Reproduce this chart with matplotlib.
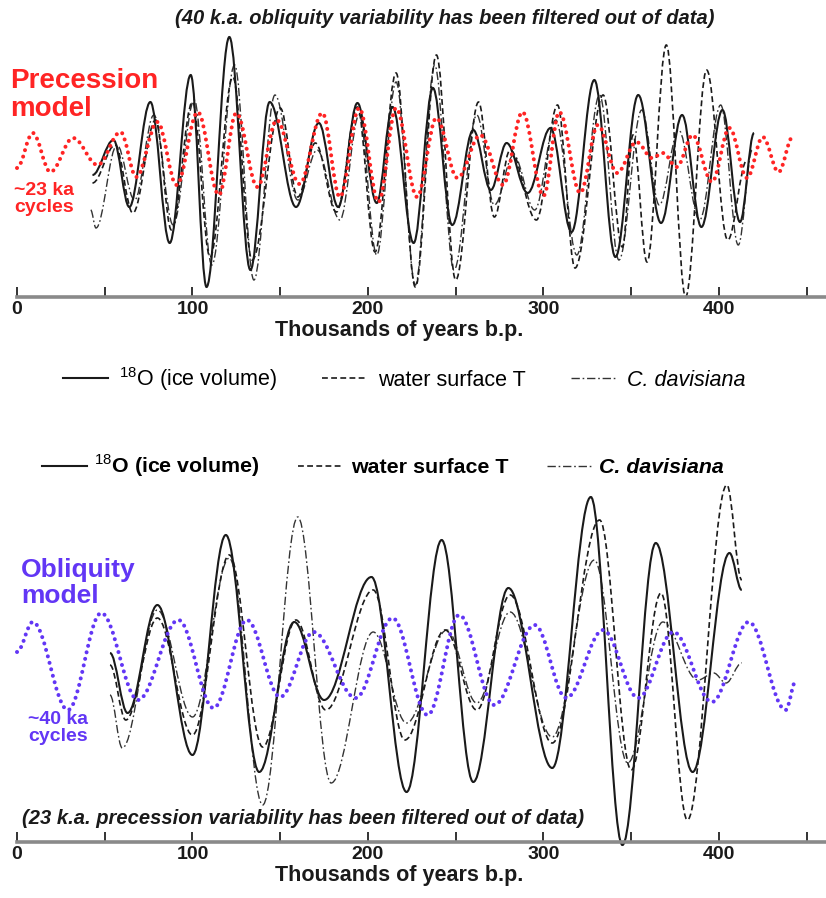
import matplotlib
matplotlib.use('Agg')
import matplotlib.pyplot as plt
from matplotlib.path import Path
from matplotlib.patches import PathPatch
from matplotlib.lines import Line2D

plt.rcParams['font.family'] = ['Liberation Sans', 'DejaVu Sans']
plt.rcParams['mathtext.fontset'] = 'custom'
plt.rcParams['mathtext.rm'] = 'Liberation Sans'
plt.rcParams['mathtext.bf'] = 'Liberation Sans:bold'

# ---- data: (ka b.p., relative amplitude) at turning points ----
# top panel: 40 ka filtered out, precession band
prec_t = [0, 9, 19, 32, 46, 59, 68, 80, 91, 103, 115, 125, 137, 148, 161, 174, 184, 195, 206, 216,
          228, 239, 251, 264, 277, 288, 300, 309, 321, 331, 342, 353, 362, 368, 376, 385, 396, 406,
          416, 425, 434, 442]
prec_v = [0.2, 3.7, -0.2, 3.2, 0.5, 3.8, -0.7, 4.8, -1.5, 5.8, -2.5, 5.7, -1.7, 5.0, -1.4, 5.7, -2.7,
          6.2, -3.2, 6.2, -2.7, 5.2, -0.8, 3.5, -1.5, 5.8, -2.6, 5.8, -2.3, 4.5, -0.3, 2.8, 1.2, 1.7,
          0.3, 3.5, -1.2, 4.2, -0.8, 3.3, -0.2, 3.3]

top_d18o_t = [43, 55, 64, 76, 87, 99, 108, 121, 133, 144, 159, 172, 183, 194, 205, 214, 226, 237,
              248, 260, 270, 279, 291, 304, 316, 329, 341, 354, 367, 379, 390, 402, 412, 420]
top_d18o_v = [-0.5, 3.0, -3.7, 6.8, -7.3, 9.5, -11.7, 13.3, -10.0, 6.8, -3.7, 4.7, -3.7, 6.7, -3.3,
              6.3, -7.3, 8.2, -5.5, 4.0, -2.0, 2.7, -2.3, 4.2, -6.2, 9.0, -8.7, 7.5, -5.3, 5.5, -5.7,
              6.0, -5.2, 3.7]

top_sst_t = [43, 56, 66, 79, 88, 100, 110, 123, 134, 150, 160, 170, 182, 194, 204, 216, 227, 239,
             250, 263, 272, 281, 296, 308, 318, 334, 345, 351, 359, 370, 381, 393, 405, 416]
top_sst_v = [-1.3, 2.5, -4.3, 5.0, -6.0, 6.8, -8.7, 9.3, -9.0, 6.2, -2.7, 2.7, -4.2, 6.3, -8.2, 9.7,
             -11.7, 11.5, -11.0, 6.8, -4.7, 2.0, -5.0, 6.5, -9.8, 7.5, -7.7, 3.5, -9.2, 12.5, -12.7,
             10.0, -7.0, 1.0]

top_cd_t = [42, 45, 57, 67, 78, 89, 101, 111, 124, 135, 147, 160, 171, 184, 195, 205, 216, 227, 238,
            249, 262, 272, 283, 295, 307, 319, 332, 343, 356, 366, 377, 389, 401, 411, 419]
top_cd_v = [-4.0, -5.8, 2.5, -3.0, 5.5, -5.5, 7.0, -9.5, 10.5, -11.0, 7.5, -3.0, 2.0, -5.0, 5.5, -8.5,
            8.8, -11.5, 10.5, -10.0, 5.5, -3.5, 1.5, -4.0, 5.0, -8.5, 7.5, -9.0, 6.0, -3.5, 4.0, -5.0,
            6.5, -7.5, 2.0]

# bottom panel: 23 ka filtered out, obliquity band
obl_t = [0, 9, 29, 48, 69, 92, 112, 131, 150, 169, 193, 214, 234, 252, 272, 295, 313, 334, 354, 374,
         396, 417, 438, 444]
obl_v = [2.8, 5.8, -3.0, 6.7, -2.0, 6.0, -2.8, 6.0, -1.7, 4.8, -1.8, 6.2, -3.5, 6.5, -2.5, 5.5, -1.8,
         5.0, -1.8, 4.8, -2.2, 5.8, -3.0, 0.0]

bot_d18o_t = [53, 63, 80, 100, 119, 138, 158, 175, 202, 222, 242, 260, 280, 305, 327, 345, 364, 385,
              406, 413]
bot_d18o_v = [2.7, -3.3, 7.5, -7.5, 14.5, -9.2, 5.8, -2.0, 10.3, -11.2, 14.0, -10.2, 9.2, -8.8, 18.3,
              -16.5, 13.7, -9.2, 12.7, 9.0]

bot_sst_t = [53, 62, 80, 100, 121, 140, 159, 176, 203, 221, 244, 262, 281, 305, 332, 350, 367, 382,
             404.5, 413]
bot_sst_v = [1.5, -4.0, 6.2, -5.5, 12.5, -6.7, 6.0, -3.0, 9.0, -6.0, 5.0, -3.0, 8.5, -6.3, 16.0, -9.0,
             8.7, -14.0, 19.5, 10.0]

bot_cd_t = [53, 60, 80, 100, 121, 140, 160, 179, 203, 222, 245, 262, 281, 305, 329, 348, 368, 388,
            397, 404, 413]
bot_cd_v = [-1.5, -6.8, 7.0, -3.7, 12.2, -12.5, 16.3, -10.3, 4.8, -4.3, 5.0, -2.3, 6.8, -5.7, 12.0,
            -8.3, 5.8, 0.0, 0.7, -0.3, 1.7]

tick_pos = list(range(0, 451, 50))
tick_lab = ['0', '', '100', '', '200', '', '300', '', '400', '']
leg_labels = [r'$^{18}$O (ice volume)', 'water surface T', 'C. davisiana']

RED = '#ff2424'
BLUE = '#6236f5'
INK = '#1a1a1a'


def smooth_path(t, v, k=0.36):
    # cubic segments between turning points, flat at each turning point
    verts = [(t[0], v[0])]
    codes = [Path.MOVETO]
    for i in range(len(t) - 1):
        dx = t[i + 1] - t[i]
        verts += [(t[i] + k * dx, v[i]), (t[i + 1] - k * dx, v[i + 1]), (t[i + 1], v[i + 1])]
        codes += [Path.CURVE4] * 3
    return Path(verts, codes)


def draw(ax, t, v, **kw):
    p = PathPatch(smooth_path(t, v), fill=False, clip_on=False, **kw)
    ax.add_patch(p)


styles = {
    'd18o': dict(edgecolor=INK, linewidth=1.5, linestyle='-'),
    'sst': dict(edgecolor=INK, linewidth=1.2, linestyle=(0, (3.5, 2.0))),
    'cd': dict(edgecolor='#333333', linewidth=1.0, linestyle=(0, (6, 2, 1.2, 2))),
}
dots = dict(linewidth=2.9, linestyle=(0, (0.01, 1.65)), capstyle='round')

fig = plt.figure(figsize=(8.26, 8.98), dpi=100)
W, H = 826, 898


def fx(px):
    return px / W


def fy(py):
    return 1 - py / H


ax1 = fig.add_axes([fx(17), fy(297), fx(826 - 17), (297 - 28) / H])
ax2 = fig.add_axes([fx(17), fy(842), fx(826 - 17), (842 - 480) / H])
ax1.set_ylim(-12.7, 14.2)
ax2.set_ylim(-16.2, 20.0)

for ax in (ax1, ax2):
    ax.set_xlim(0, 461)
    for s in ('left', 'right', 'top'):
        ax.spines[s].set_visible(False)
    ax.spines['bottom'].set_color('#8a8a8a')
    ax.spines['bottom'].set_linewidth(2.6)
    ax.set_yticks([])
    ax.set_xticks(tick_pos)
    ax.set_xticklabels(tick_lab)
    ax.tick_params(axis='x', direction='in', length=7, width=1.4, color='#333333',
                   labelsize=14, pad=3)
    for lab in ax.get_xticklabels():
        lab.set_fontweight('bold')
        lab.set_color(INK)
    ax.set_xlabel('Thousands of years b.p.', fontsize=15.5, fontweight='bold', color=INK, labelpad=1)
    ax.xaxis.label.set_x(0.472)
    ax.patch.set_visible(False)

draw(ax1, top_cd_t, top_cd_v, **styles['cd'])
draw(ax1, top_sst_t, top_sst_v, **styles['sst'])
draw(ax1, top_d18o_t, top_d18o_v, **styles['d18o'])
draw(ax1, prec_t, prec_v, edgecolor=RED, **dots)

draw(ax2, bot_cd_t, bot_cd_v, **styles['cd'])
draw(ax2, bot_sst_t, bot_sst_v, **styles['sst'])
draw(ax2, bot_d18o_t, bot_d18o_v, **styles['d18o'])
draw(ax2, obl_t, obl_v, edgecolor=BLUE, **dots)


def proxies():
    out = []
    for key in ('d18o', 'sst', 'cd'):
        st = styles[key]
        out.append(Line2D([], [], color=st['edgecolor'], linewidth=st['linewidth'],
                          linestyle=st['linestyle']))
    return out


leg1 = fig.legend(proxies(), leg_labels, loc='center', bbox_to_anchor=(fx(404), fy(379)), ncol=3,
                  frameon=False, handlelength=2.1, columnspacing=2.1, handletextpad=0.5,
                  prop={'size': 15.5})
leg2 = fig.legend(proxies(), leg_labels, loc='center', bbox_to_anchor=(fx(383), fy(466)), ncol=3,
                  frameon=False, handlelength=2.1, columnspacing=1.8, handletextpad=0.35,
                  prop={'size': 15.4, 'weight': 'bold'})
for leg in (leg1, leg2):
    leg.get_texts()[2].set_style('italic')

# annotations
fig.text(fx(445), fy(18), '(40 k.a. obliquity variability has been filtered out of data)',
         ha='center', va='center', fontsize=14.5, fontweight='bold', style='italic', color=INK)
fig.text(fx(22), fy(819), '(23 k.a. precession variability has been filtered out of data)',
         ha='left', va='center', fontsize=14.5, fontweight='bold', style='italic', color=INK)

fig.text(fx(10), fy(95), 'Precession\nmodel', ha='left', va='center', fontsize=20,
         fontweight='bold', color=RED, linespacing=1.05)
fig.text(fx(14), fy(199), '~23 ka\ncycles', ha='left', va='center', fontsize=14,
         fontweight='bold', color=RED, linespacing=1.0)
fig.text(fx(21), fy(583), 'Obliquity\nmodel', ha='left', va='center', fontsize=19,
         fontweight='bold', color=BLUE, linespacing=1.15)
fig.text(fx(28), fy(728), '~40 ka\ncycles', ha='left', va='center', fontsize=14,
         fontweight='bold', color=BLUE, linespacing=1.0)

fig.savefig('out.png', dpi=100)
